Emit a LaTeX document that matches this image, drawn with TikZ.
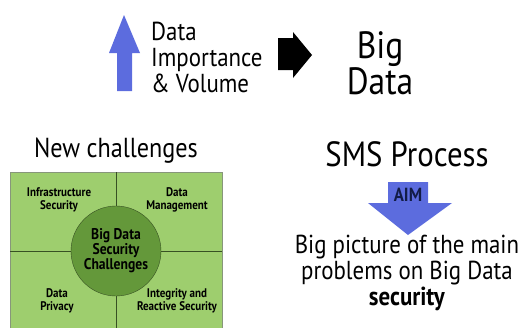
\documentclass[tikz,border=0pt]{standalone}
\usepackage{fontspec}
\setmainfont{PT Sans}[FakeStretch=0.88,BoldFont={PT Sans Bold}]
\usetikzlibrary{positioning}
\definecolor{arrowblue}{RGB}{92,108,222}
\definecolor{boxgreen}{RGB}{158,206,110}
\definecolor{circgreen}{RGB}{100,152,58}
\definecolor{linegreen}{RGB}{55,80,35}
\definecolor{aimnavy}{RGB}{18,28,70}

\begin{document}
\begin{tikzpicture}[x=1pt,y=-1pt,
  bigtxt/.style={align=center,inner sep=0pt,font=\fontsize{27.5}{27.5}\selectfont},
  celltxt/.style={align=center,inner sep=0pt,font=\bfseries\fontsize{12.5}{13}\selectfont},
  core/.style={circle,draw=linegreen,fill=circgreen,minimum size=90pt,inner sep=0pt,
    align=center,font=\bfseries\fontsize{15.5}{15}\selectfont}]
\useasboundingbox (0,0) rectangle (528,327);
% Top row: data growth leads to big data
\fill[arrowblue] (117,91) -- (117,53) -- (109,53) -- (124,15) -- (140,53) -- (132,53) -- (132,91) -- cycle;
\node[bigtxt,align=left,anchor=west,font=\fontsize{26}{26}\selectfont] (growth) at (151,57) {Data\\Importance\\\& Volume};
\fill[black] (278,38) -- (293,38) -- (293,32) -- (312,55) -- (293,78) -- (293,70) -- (278,70) -- cycle;
\node[bigtxt,font=\fontsize{38}{32}\selectfont] (bigdata) at (380,63) {Big\\Data};
% Left: the challenges square
\node[bigtxt] (newch) at (116,151) {New challenges};
\fill[boxgreen] (10,172) rectangle (222,330);
\draw[linegreen!60,thin] (10,330) -- (10,172) -- (222,172) -- (222,330);
\draw[linegreen,thin] (116,172) -- (116,330);
\draw[linegreen,thin] (10,251) -- (222,251);
\node[core] (sec) at (116,251) {Big Data\\Security\\Challenges};
\node[celltxt] (infra) at (59,200) {Infrastructure\\Security};
\node[celltxt] (mgmt) at (177,200) {Data\\Management};
\node[celltxt] (priv) at (57,301) {Data\\Privacy};
\node[celltxt] (integ) at (177,301) {Integrity and\\Reactive Security};
% Right: SMS process and its aim
\node[bigtxt,font=\fontsize{35}{35}\selectfont] (sms) at (407,154) {SMS Process};
\fill[arrowblue] (388,182) -- (428,182) -- (428,203) -- (452,203) -- (408,235) -- (368,203) -- (388,203) -- cycle;
\node[inner sep=0pt,text=aimnavy,font=\bfseries\fontsize{19}{19}\selectfont] (aim) at (408,195) {AIM};
\node[bigtxt,font=\fontsize{26}{26}\selectfont] (goal) at (407,273) {Big picture of the main\\problems on Big Data\\\textbf{security}};
\end{tikzpicture}
\end{document}
